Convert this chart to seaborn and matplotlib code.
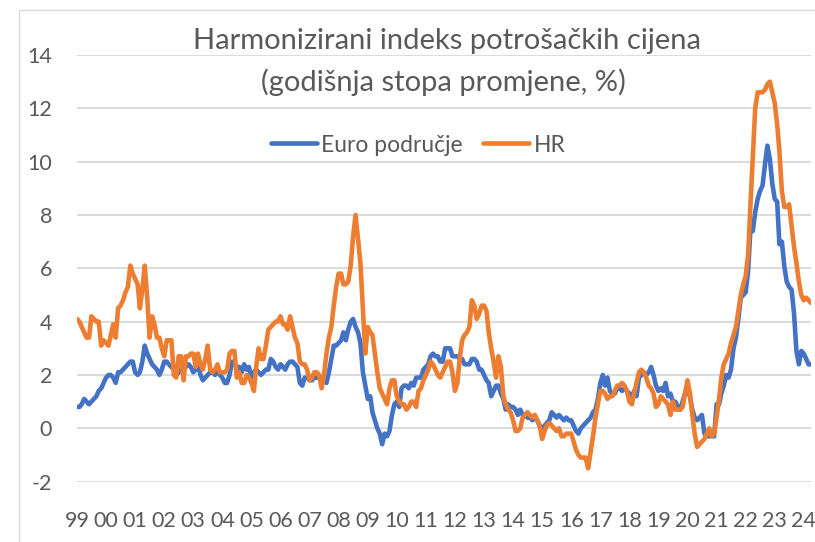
import pandas as pd
import matplotlib
matplotlib.use("Agg")
import matplotlib.pyplot as plt
from matplotlib.patches import Rectangle
import seaborn as sns

# HIPC, godisnja stopa promjene (%), mjesecno od sij. 1999 do tra. 2024
# jedan red = jedna godina
euro_rows = [
    [0.8, 0.8, 0.9, 1.1, 1.0, 0.9, 1.0, 1.1, 1.2, 1.4, 1.5, 1.7],     # 1999
    [1.9, 2.0, 2.0, 1.9, 1.7, 2.1, 2.1, 2.2, 2.3, 2.4, 2.5, 2.5],     # 2000
    [2.1, 2.0, 2.1, 2.5, 3.1, 2.8, 2.6, 2.4, 2.3, 2.2, 2.0, 2.2],     # 2001
    [2.5, 2.5, 2.4, 2.3, 2.2, 2.0, 2.1, 2.2, 2.4, 2.3, 2.4, 2.3],     # 2002
    [2.1, 2.2, 2.4, 2.0, 1.8, 1.9, 2.0, 2.1, 2.1, 2.0, 2.2, 2.0],     # 2003
    [1.9, 1.7, 1.7, 2.0, 2.5, 2.4, 2.3, 2.3, 2.1, 2.4, 2.2, 2.3],     # 2004
    [1.9, 2.1, 2.2, 2.1, 2.0, 2.1, 2.2, 2.2, 2.6, 2.5, 2.3, 2.2],     # 2005
    [2.4, 2.3, 2.2, 2.4, 2.5, 2.5, 2.4, 2.3, 1.7, 1.6, 1.9, 1.9],     # 2006
    [1.8, 1.8, 1.9, 1.9, 1.9, 1.9, 1.8, 1.7, 2.1, 2.6, 3.1, 3.1],     # 2007
    [3.2, 3.3, 3.6, 3.3, 3.7, 4.0, 4.1, 3.8, 3.6, 3.2, 2.1, 1.6],     # 2008
    [1.1, 1.2, 0.6, 0.3, 0.0, -0.2, -0.6, -0.2, -0.3, -0.1, 0.5, 0.9],  # 2009
    [1.0, 0.8, 1.5, 1.6, 1.6, 1.5, 1.7, 1.6, 1.9, 1.9, 1.9, 2.2],     # 2010
    [2.3, 2.4, 2.7, 2.8, 2.7, 2.7, 2.5, 2.5, 3.0, 3.0, 3.0, 2.7],     # 2011
    [2.7, 2.7, 2.6, 2.6, 2.4, 2.4, 2.4, 2.6, 2.6, 2.5, 2.2, 2.2],     # 2012
    [2.0, 1.8, 1.7, 1.2, 1.4, 1.6, 1.6, 1.3, 1.1, 0.7, 0.9, 0.8],     # 2013
    [0.8, 0.7, 0.5, 0.7, 0.5, 0.5, 0.4, 0.4, 0.3, 0.4, 0.3, 0.1],     # 2014
    [0.0, 0.1, 0.2, 0.3, 0.6, 0.5, 0.4, 0.5, 0.4, 0.3, 0.4, 0.3],     # 2015
    [0.3, 0.1, -0.1, -0.2, 0.0, 0.1, 0.2, 0.3, 0.4, 0.6, 0.7, 1.1],   # 2016
    [1.7, 2.0, 1.6, 1.9, 1.4, 1.3, 1.3, 1.5, 1.5, 1.4, 1.5, 1.4],     # 2017
    [1.3, 1.1, 1.4, 1.2, 1.9, 2.0, 2.1, 2.0, 2.1, 2.3, 2.0, 1.6],     # 2018
    [1.4, 1.5, 1.4, 1.7, 1.2, 1.3, 1.0, 1.0, 0.8, 0.7, 1.0, 1.3],     # 2019
    [1.4, 1.2, 0.7, 0.4, 0.3, 0.4, 0.5, -0.2, -0.3, -0.3, -0.3, -0.3],  # 2020
    [0.9, 0.9, 1.3, 1.6, 2.0, 1.9, 2.2, 3.0, 3.4, 4.1, 4.9, 5.0],     # 2021
    [5.1, 5.9, 7.4, 7.4, 8.1, 8.6, 8.9, 9.1, 9.9, 10.6, 10.1, 9.2],   # 2022
    [8.6, 8.5, 6.9, 7.0, 6.1, 5.5, 5.3, 5.2, 4.3, 2.9, 2.4, 2.9],     # 2023
    [2.8, 2.6, 2.4, 2.4],                                             # 2024
]

hr_rows = [
    [4.1, 4.0, 3.8, 3.6, 3.4, 3.4, 4.2, 4.1, 4.0, 4.0, 3.1, 3.3],     # 1999
    [3.2, 3.1, 3.5, 3.9, 3.4, 4.5, 4.6, 4.8, 5.1, 5.3, 6.1, 5.8],     # 2000
    [5.6, 5.4, 4.5, 5.2, 6.1, 4.9, 3.4, 4.2, 3.9, 3.4, 3.4, 3.0],     # 2001
    [2.7, 3.3, 3.3, 3.3, 2.0, 1.9, 2.7, 2.7, 1.8, 2.7, 2.7, 2.8],     # 2002
    [2.8, 2.3, 2.8, 2.4, 2.2, 2.6, 3.1, 2.2, 2.1, 2.2, 2.4, 2.1],     # 2003
    [2.1, 2.1, 2.2, 2.8, 2.9, 2.9, 1.9, 2.1, 1.7, 1.7, 2.0, 1.9],     # 2004
    [1.7, 1.4, 2.3, 3.0, 2.6, 2.6, 3.1, 3.7, 3.8, 3.9, 4.0, 4.0],     # 2005
    [4.2, 3.9, 3.9, 3.7, 4.2, 3.8, 3.4, 3.2, 2.5, 2.4, 2.4, 2.2],     # 2006
    [1.8, 1.9, 2.1, 2.1, 2.0, 1.5, 2.0, 2.8, 3.4, 3.8, 4.6, 5.3],     # 2007
    [5.8, 5.8, 5.4, 5.4, 5.5, 6.1, 7.2, 8.0, 7.1, 6.2, 4.5, 2.8],     # 2008
    [3.8, 3.6, 3.5, 2.8, 2.1, 1.5, 1.3, 1.1, 0.9, 1.5, 1.8, 1.8],     # 2009
    [1.2, 1.0, 0.9, 0.9, 0.7, 0.8, 1.0, 1.0, 0.8, 1.4, 1.5, 1.8],     # 2010
    [2.0, 2.2, 2.5, 2.4, 2.2, 2.0, 1.9, 2.1, 2.3, 2.5, 2.5, 2.1],     # 2011
    [1.4, 1.7, 2.6, 3.3, 3.5, 3.6, 3.8, 4.8, 4.6, 4.1, 4.3, 4.6],     # 2012
    [4.6, 4.4, 3.6, 3.0, 2.5, 1.9, 2.7, 2.3, 1.2, 0.9, 0.7, 0.6],     # 2013
    [0.3, -0.1, -0.1, 0.0, 0.4, 0.5, 0.6, 0.5, 0.4, 0.5, 0.3, 0.1],   # 2014
    [-0.4, -0.1, 0.1, 0.2, 0.1, 0.0, -0.1, 0.0, -0.3, -0.3, -0.2, -0.2],  # 2015
    [-0.2, -0.5, -0.8, -1.0, -1.1, -1.1, -1.1, -1.5, -0.9, -0.3, 0.4, 0.9],  # 2016
    [1.4, 1.4, 1.3, 1.1, 1.2, 1.2, 1.4, 1.6, 1.6, 1.7, 1.6, 1.4],     # 2017
    [1.0, 0.9, 1.3, 1.7, 2.1, 2.2, 2.1, 1.9, 1.6, 1.5, 1.3, 0.8],     # 2018
    [0.9, 1.2, 1.1, 1.0, 0.9, 0.5, 1.0, 0.7, 0.7, 0.7, 0.8, 1.3],     # 2019
    [1.8, 1.3, 0.5, -0.2, -0.7, -0.6, -0.5, -0.4, -0.2, 0.0, -0.3, -0.2],  # 2020
    [0.4, 1.1, 1.9, 2.4, 2.6, 2.8, 3.2, 3.5, 3.8, 4.4, 5.0, 5.4],     # 2021
    [5.7, 6.5, 8.3, 10.2, 12.0, 12.6, 12.6, 12.6, 12.7, 12.9, 13.0, 12.6],  # 2022
    [12.2, 11.4, 10.4, 8.9, 8.3, 8.3, 8.4, 7.6, 6.8, 6.2, 5.5, 5.0],  # 2023
    [4.8, 4.9, 4.8, 4.7],                                             # 2024
]

year_labels = ["99", "00", "01", "02", "03", "04", "05", "06", "07", "08",
               "09", "10", "11", "12", "13", "14", "15", "16", "17", "18",
               "19", "20", "21", "22", "23", "24"]

series_names = ["Euro područje", "HR"]
colors = ["#4472C4", "#ED7D31"]
grey_txt = "#595959"

# %%
euro = [v for row in euro_rows for v in row]
hr = [v for row in hr_rows for v in row]
n = len(euro)
dates = pd.date_range("1999-01-01", periods=n, freq="MS")

df = pd.DataFrame({
    "datum": list(dates) * 2,
    "stopa": euro + hr,
    "serija": [series_names[0]] * n + [series_names[1]] * n,
})

# %%
sns.set_theme(style="white")
plt.rcParams["font.family"] = ["Lato", "DejaVu Sans"]
plt.rcParams["axes.unicode_minus"] = False

fig = plt.figure(figsize=(8.15, 5.42), dpi=100)
ax = fig.add_axes([77 / 815, 1 - 481.6 / 542, (811 - 77) / 815, (481.6 - 55) / 542])

sns.lineplot(data=df, x="datum", y="stopa", hue="serija", hue_order=series_names,
             palette=colors, linewidth=3.3, ax=ax,
             solid_joinstyle="round", solid_capstyle="round")

ax.set_ylim(-2, 14)
ax.set_yticks(range(-2, 15, 2))
ax.yaxis.grid(True, color="#D9D9D9", lw=1.3)
ax.xaxis.grid(False)
ax.set_axisbelow(True)

ax.set_xlim(dates[0], dates[-1])
ax.set_xticks(pd.to_datetime([f"{1999 + i}-01-01" for i in range(len(year_labels))]))
ax.set_xticklabels(year_labels)
ax.set_xlabel("")
ax.set_ylabel("")
for s in ax.spines.values():
    s.set_visible(False)
ax.tick_params(length=0, labelsize=15.5, colors=grey_txt)
ax.tick_params(axis="x", pad=21)
ax.tick_params(axis="y", pad=18)

handles, labels = ax.get_legend_handles_labels()
leg = ax.legend(handles, labels, loc="center", bbox_to_anchor=(0.465, 0.789), ncol=2,
                frameon=False, fontsize=16.5, handlelength=2.0, handletextpad=0.2,
                columnspacing=0.9)
for t in leg.get_texts():
    t.set_color(grey_txt)

fig.text(447 / 815, 1 - 41 / 542, "Harmonizirani indeks potrošačkih cijena",
         ha="center", va="center", fontsize=21, color=grey_txt)
fig.text(443 / 815, 1 - 82 / 542, "(godišnja stopa promjene, %)",
         ha="center", va="center", fontsize=21, color=grey_txt)

# rub grafikona (vidi se samo lijevo i gore)
fig.add_artist(Rectangle((19 / 815, -0.1), 1.2, 1.1 - 10 / 542,
                         transform=fig.transFigure, fill=False, ec="#D9D9D9", lw=1))

fig.savefig("out.png", dpi=100)
